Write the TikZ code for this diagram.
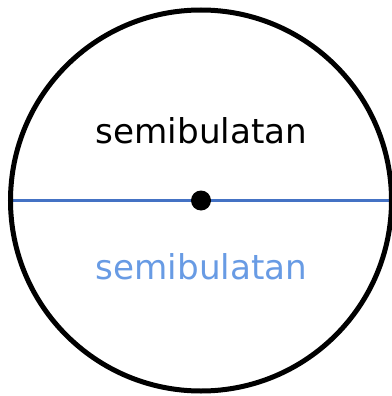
\documentclass[tikz,border=0pt]{standalone}
\usepackage{fontspec}
\newfontfamily\labelfont{DejaVu Sans}
\usetikzlibrary{positioning, backgrounds}
\definecolor{diamblue}{RGB}{68,114,196}
\definecolor{halfblue}{RGB}{104,155,228}

\begin{document}
\begin{tikzpicture}[
    x=1pt, y=-1pt,
    ring/.style={circle, draw=black, line width=5pt, minimum size=381pt, inner sep=0pt, outer sep=0pt},
    centerdot/.style={circle, fill=black, minimum size=20pt, inner sep=0pt},
    diameter/.style={draw=diamblue, line width=2.5pt},
    halflabel/.style={anchor=base, inner sep=0pt, font=\labelfont\fontsize{34.2}{40}\selectfont},
]
    \useasboundingbox (0,0) rectangle (391,396);

    % Circle and centre
    \node (ring) [ring] at (201,200.5) {};
    \begin{scope}[on background layer]
        \draw [diameter] (ring.west) -- (ring.east);
    \end{scope}
    \node (centre) [centerdot] at (ring.center) {};

    % Labels
    \node (upper_half) [halflabel, text=black] at (201.5,143) {semibulatan};
    \node (lower_half) [halflabel, text=halfblue] at (201.5,279) {semibulatan};

\end{tikzpicture}
\end{document}
